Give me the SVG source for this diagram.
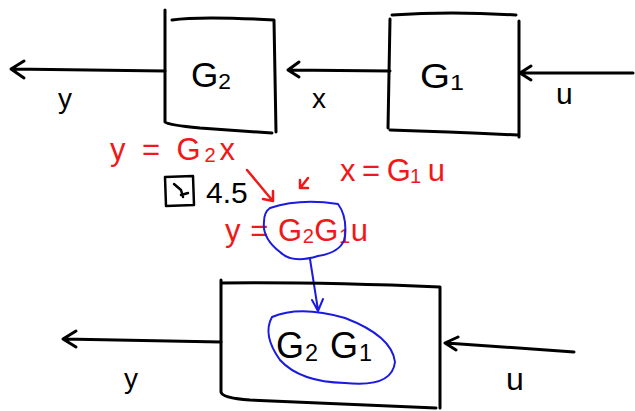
<svg xmlns="http://www.w3.org/2000/svg" width="635" height="411" viewBox="0 0 635 411">
<style>
.k{fill:none;stroke:#000;stroke-width:3;stroke-linecap:round;stroke-linejoin:round}
.b{fill:none;stroke:#1a1ae0;stroke-width:2;stroke-linecap:round;stroke-linejoin:round}
.r{fill:none;stroke:#f01818;stroke-width:2.5;stroke-linecap:round;stroke-linejoin:round}
.t{font-family:"Liberation Sans",Arial,sans-serif;fill:#000}
.rt{font-family:"Liberation Sans",Arial,sans-serif;fill:#f01818}
.s{font-size:65%}
</style>
<rect width="635" height="411" fill="#fff"/>
<g id="connectors">
  <path class="k" d="M165 71 L12 69 M24 61 L11 69 L24 78"/>
  <path class="k" d="M390 71 L288 70 M299 62 L288 70 L299 77"/>
  <path class="k" d="M633 73 L520 73 M531 66 L520 73 L531 80"/>
  <path class="k" d="M221 342 L64 339 M76 331 L63 339 L76 347"/>
  <path class="k" d="M574 352 L446 343 M458 337 L445 343 L456 350"/>
  <path class="r" d="M247 170 L272 200 M263 199 L273 201 L273 191"/>
  <path class="r" d="M308 178 L301 187 M300 180 L300 188 L308 188"/>
  <path class="b" d="M310 259 L318 310 M312 300 L318 311 L323 299"/>
</g>
<g id="G2">
  <path class="k" d="M165 10 L165 122 Q168 125 200 128 L272 133 M172 20 Q200 16 274 20 L276 132"/>
  <text class="t" x="191" y="87" font-size="35" textLength="40" lengthAdjust="spacingAndGlyphs">G<tspan class="s" dy="2">2</tspan></text>
  <text class="t" x="58" y="108" font-size="28">y</text>
</g>
<g id="G1">
  <path class="k" d="M390 19 L388 128 M392 15 Q450 11 516 15 M519 21 L519 137 M390 130 Q450 132 518 135"/>
  <text class="t" x="420" y="88" font-size="35" textLength="44" lengthAdjust="spacingAndGlyphs">G<tspan class="s" dy="2">1</tspan></text>
  <text class="t" x="312" y="108" font-size="28">x</text>
  <text class="t" x="556" y="104" font-size="30">u</text>
</g>
<g id="notes">
  <text class="rt" x="110" y="160" font-size="31" textLength="125" lengthAdjust="spacing">y = G<tspan class="s" dy="2">2</tspan><tspan dy="-2">x</tspan></text>
  <text class="rt" x="340" y="181" font-size="31" textLength="105" lengthAdjust="spacing">x = G<tspan class="s" dy="2">1</tspan><tspan dy="-2"> u</tspan></text>
  <path class="k" d="M165 177 L193 176 L194 205 L166 206 Z M174 184 L181 190 L183 197 M181 195 L188 193" style="stroke-width:2.5"/>
  <text class="t" x="206" y="203" font-size="30">4.5</text>
  <text class="rt" x="225" y="241" font-size="31" textLength="143" lengthAdjust="spacing">y = G<tspan class="s" dy="2">2</tspan><tspan dy="-2">G</tspan><tspan class="s" dy="2">1</tspan><tspan dy="-2">u</tspan></text>
  <path class="b" d="M270 208 Q300 198 338 204 Q347 216 345 236 Q343 252 318 256 Q292 264 280 252 Q262 238 264 222 Q264 212 270 208"/>
</g>
<g id="G2G1">
  <path class="k" d="M221 280 L221 392 Q222 398 250 400 L436 408 M221 283 Q320 282 440 287 L440 408"/>
  <path class="b" d="M272 317 Q300 305 345 318 Q392 336 395 362 Q392 388 345 383 Q300 382 280 360 Q262 335 272 317"/>
  <text class="t" x="276" y="358" font-size="36" textLength="96" lengthAdjust="spacing">G<tspan class="s" dy="3">2</tspan><tspan dy="-3"> G</tspan><tspan class="s" dy="3">1</tspan></text>
  <text class="t" x="124" y="388" font-size="28">y</text>
  <text class="t" x="506" y="390" font-size="32">u</text>
</g>
</svg>
